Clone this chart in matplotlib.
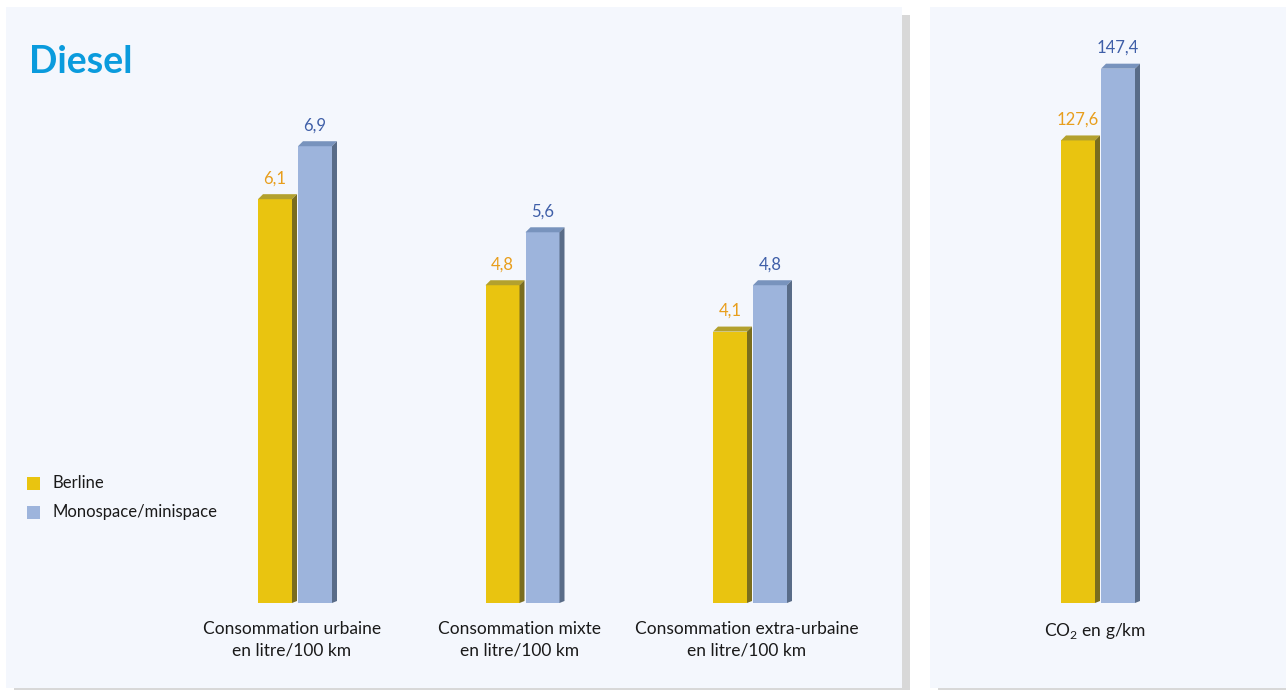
import matplotlib
matplotlib.use("Agg")
import matplotlib.pyplot as plt
from matplotlib.patches import Rectangle, Polygon

# data
categories = ["Consommation urbaine\nen litre/100 km",
              "Consommation mixte\nen litre/100 km",
              "Consommation extra-urbaine\nen litre/100 km"]
berline = [6.1, 4.8, 4.1]
monospace = [6.9, 5.6, 4.8]
co2_label = "CO$_2$ en g/km"
co2_berline = [127.6]
co2_monospace = [147.4]
series_names = ["Berline", "Monospace/minispace"]

W, H = 1286, 690
FONT = "Lato"
plt.rcParams["mathtext.fontset"] = "custom"
plt.rcParams["mathtext.rm"] = FONT

yellow = dict(front="#E9C410", top="#B3A12E", side="#7A6D1E", text="#E89E1C")
blue = dict(front="#9DB4DC", top="#7893BD", side="#596C88", text="#3F5FA8")

fig = plt.figure(figsize=(W / 100, H / 100), dpi=100)
fig.patch.set_facecolor("white")


def px_box(x0, y0, x1, y1):
    # pixel box (top-left origin) -> figure fraction [l, b, w, h]
    return [x0 / W, 1 - y1 / H, (x1 - x0) / W, (y1 - y0) / H]


# panel backgrounds with grey shadow
bg = "#F4F7FD"
shadow = "#D8D8D8"
for (x0, y0, x1, y1) in [(902, 15, 910, 690), (14, 688, 910, 690), (938, 688, 1286, 690)]:
    l, b, w, h = px_box(x0, y0, x1, y1)
    fig.patches.append(Rectangle((l, b), w, h, transform=fig.transFigure,
                                 facecolor=shadow, edgecolor="none", zorder=-2))
for (x0, y0, x1, y1) in [(6, 7, 902, 688), (930, 7, 1286, 688)]:
    l, b, w, h = px_box(x0, y0, x1, y1)
    fig.patches.append(Rectangle((l, b), w, h, transform=fig.transFigure,
                                 facecolor=bg, edgecolor="none", zorder=-1))

UNIT = 227.5      # pixels per category step
BAR_PX = 34
GAP_PX = 39       # yellow left edge to group centre
DEPTH = 5


def bar3d(ax, x, w, h, colors, dx, dy):
    ax.add_patch(Rectangle((x, 0), w, h, facecolor=colors["front"], edgecolor="none", zorder=3))
    ax.add_patch(Polygon([(x, h), (x + dx, h + dy), (x + w + dx, h + dy), (x + w, h)],
                         closed=True, facecolor=colors["top"], edgecolor="none", zorder=3))
    ax.add_patch(Polygon([(x + w, 0), (x + w + dx, dy * 0.4), (x + w + dx, h + dy), (x + w, h)],
                         closed=True, facecolor=colors["side"], edgecolor="none", zorder=3))


def draw_panel(ax, cats, s1, s2, px_per_unit, xlim, label_fs):
    ax.set_xlim(*xlim)
    ax.set_ylim(0, 596 / px_per_unit)
    ax.axis("off")
    bw = BAR_PX / UNIT
    off = GAP_PX / UNIT
    dx = DEPTH / UNIT
    dy = DEPTH / px_per_unit
    for i, (a, b) in enumerate(zip(s1, s2)):
        bar3d(ax, i - off, bw, a, yellow, dx, dy)
        bar3d(ax, i + 1 / UNIT, bw, b, blue, dx, dy)
        ax.text(i - off + bw / 2, a + dy + 8 / px_per_unit, f"{a:.1f}".replace(".", ","),
                ha="center", va="bottom", color=yellow["text"], fontsize=12, family=FONT)
        ax.text(i + 1 / UNIT + bw / 2, b + dy + 8 / px_per_unit, f"{b:.1f}".replace(".", ","),
                ha="center", va="bottom", color=blue["text"], fontsize=12, family=FONT)
        ax.text(i - 5 / UNIT, -18 / px_per_unit, cats[i], ha="center", va="top",
                fontsize=label_fs, family=FONT, color="#1A1A1A", linespacing=1.42,
                clip_on=False)


# left panel: consumption
axL = fig.add_axes(px_box(6, 7, 902, 603))
draw_panel(axL, categories, berline, monospace, 66.2,
           ((6 - 297) / UNIT, (902 - 297) / UNIT), 12.5)

# right panel: CO2
axR = fig.add_axes(px_box(930, 7, 1286, 603))
draw_panel(axR, [co2_label], co2_berline, co2_monospace, 3.625,
           ((930 - 1100) / UNIT, (1286 - 1100) / UNIT), 12.5)

# title
fig.text(29 / W, 1 - 62 / H, "Diesel", color="#0A9BDD", fontsize=27,
         fontweight="bold", family=FONT, va="center", ha="left")

# legend
for k, (name, c) in enumerate(zip(series_names, [yellow, blue])):
    yc = 483 + 29 * k
    l, b, w, h = px_box(27, yc - 6.5, 40, yc + 6.5)
    fig.patches.append(Rectangle((l, b), w, h, transform=fig.transFigure,
                                 facecolor=c["front"], edgecolor="none"))
    fig.text(52 / W, 1 - yc / H, name, fontsize=12, family=FONT,
             color="#1A1A1A", va="center", ha="left")

fig.savefig("out.png", dpi=100, facecolor=fig.get_facecolor())
